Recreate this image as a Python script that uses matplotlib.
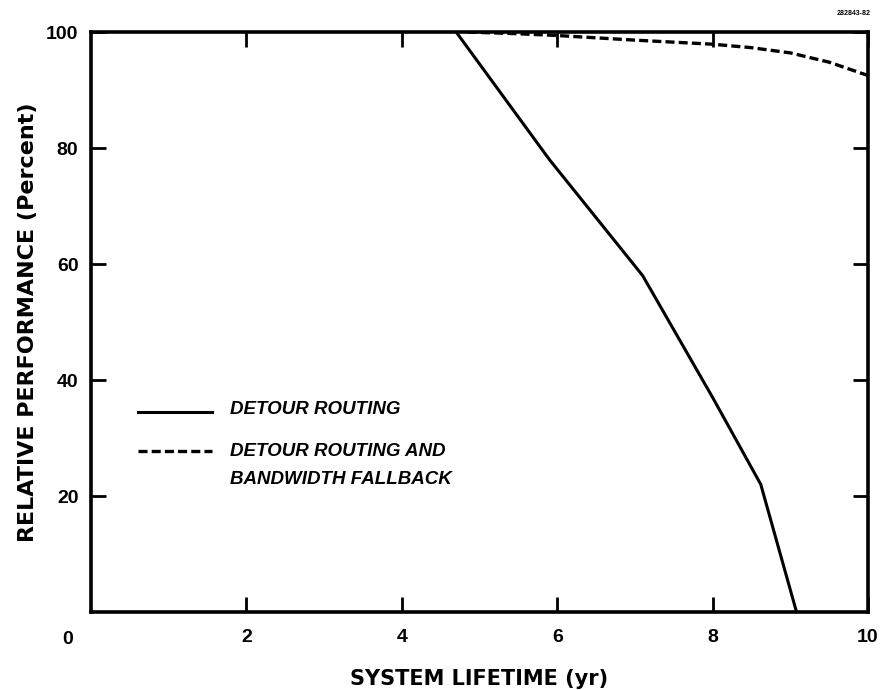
import matplotlib.pyplot as plt

plt.rcParams['font.family'] = ['Liberation Sans', 'DejaVu Sans']
plt.rcParams['lines.scale_dashes'] = False

# detour routing only
years_detour = [4.7, 5.9, 7.1, 8.0, 8.62, 9.08]
perf_detour = [100, 78, 58, 37, 22, 0]

# detour routing plus bandwidth fallback
years_fallback = [4.85, 5.5, 6.0, 7.0, 8.0, 8.5, 9.0, 9.5, 10.0]
perf_fallback = [100, 99.7, 99.4, 98.6, 97.9, 97.3, 96.4, 94.8, 92.5]

x_ticks = [2, 4, 6, 8, 10]
y_ticks = [20, 40, 60, 80, 100]

DASH = (6.5, 3)

fig = plt.figure(figsize=(8.9, 6.9), dpi=100)
ax = fig.add_axes([0.1022, 0.113, 0.8731, 0.8406])

ax.plot(years_detour, perf_detour, color='black', lw=2.2, solid_joinstyle='round')
ax.plot(years_fallback, perf_fallback, color='black', lw=2.4, dashes=DASH)

ax.set_xlim(0, 10)
ax.set_ylim(0, 100)
ax.set_xticks(x_ticks)
ax.set_yticks(y_ticks)
ax.set_xticklabels([str(v) for v in x_ticks], fontsize=14, fontweight='bold')
ax.set_yticklabels([str(v) for v in y_ticks], fontsize=14, fontweight='bold')
ax.tick_params(axis='both', direction='in', length=11, width=2.0,
               top=True, right=True)
ax.tick_params(axis='x', pad=12)
ax.tick_params(axis='y', pad=9)
for s in ax.spines.values():
    s.set_linewidth(2.6)

# shared origin label
fig.text(68 / 890, 1 - 639 / 690, '0', fontsize=14, fontweight='bold',
         ha='center', va='center')

ax.set_xlabel('SYSTEM LIFETIME (yr)', fontsize=15, fontweight='heavy',
              family='DejaVu Sans', labelpad=17)
ax.set_ylabel('RELATIVE PERFORMANCE (Percent)', fontsize=16, fontweight='heavy',
              family='DejaVu Sans', labelpad=6)

# key, drawn by hand so the dashed sample sits on the first text line
key_font = dict(fontsize=13.5, fontweight='bold', style='italic',
                va='center', ha='left', transform=ax.transAxes)
ax.plot([0.0605, 0.1557], [0.345, 0.345], color='black', lw=2.2,
        transform=ax.transAxes, clip_on=False)
ax.plot([0.0605, 0.1557], [0.2776, 0.2776], color='black', lw=2.4,
        dashes=DASH, transform=ax.transAxes, clip_on=False)
ax.text(0.179, 0.350, 'DETOUR ROUTING', **key_font)
ax.text(0.179, 0.276, 'DETOUR ROUTING AND', **key_font)
ax.text(0.179, 0.229, 'BANDWIDTH FALLBACK', **key_font)

fig.text(0.978, 0.985, '282843-82', fontsize=5, fontweight='bold',
         ha='right', va='top')

fig.savefig('out.png', dpi=100)
